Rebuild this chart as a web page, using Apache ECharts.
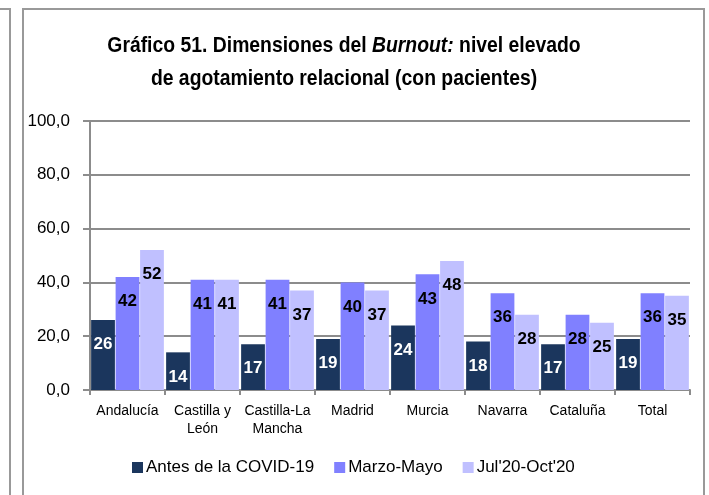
<!DOCTYPE html>
<html>
<head>
<meta charset="utf-8">
<script src="https://cdn.jsdelivr.net/npm/echarts@6/dist/echarts.min.js"></script>
<style>
  html, body { margin: 0; padding: 0; background: #fff; }
  #chart { width: 709px; height: 495px; }
</style>
</head>
<body>
<div id="chart"></div>
<script>
// Regions and the three survey periods
const categories = ['Andalucía', 'Castilla y\nLeón', 'Castilla-La\nMancha', 'Madrid', 'Murcia', 'Navarra', 'Cataluña', 'Total'];
const seriesNames = ['Antes de la COVID-19', 'Marzo-Mayo', "Jul'20-Oct'20"];
const antesCovid = [26, 14, 17, 19, 24, 18, 17, 19];
const marzoMayo = [42, 41, 41, 40, 43, 36, 28, 36];
const julOct = [52, 41, 37, 37, 48, 28, 25, 35];
const yTicks = [0, 20, 40, 60, 80, 100];

const colors = ['#1B365D', '#8080FF', '#C0C0FF'];
const labelColors = ['#ffffff', '#000000', '#000000'];
const FONT = "'Liberation Sans', Arial, sans-serif";
const GREY = '#8C8C8C';

const chart = echarts.init(document.getElementById('chart'), null, { renderer: 'canvas' });

function barSeries(i, values) {
  return {
    name: seriesNames[i],
    type: 'bar',
    data: values,
    barGap: '3%',
    barCategoryGap: '3%',
    itemStyle: { color: colors[i] },
    label: {
      show: true,
      position: 'insideTop',
      distance: 16,
      color: labelColors[i],
      fontFamily: FONT,
      fontWeight: 'bold',
      fontSize: 17
    }
  };
}

chart.setOption({
  animation: false,
  color: colors,
  legend: {
    data: seriesNames,
    left: 127,
    top: 454,
    itemWidth: 11,
    itemHeight: 11,
    itemGap: 20,
    icon: 'rect',
    textStyle: { fontFamily: FONT, fontSize: 17, color: '#000', padding: [0, 0, 0, -2] }
  },
  grid: { left: 90, right: 19, top: 121, bottom: 105, containLabel: false },
  xAxis: {
    type: 'category',
    data: categories,
    axisLine: { lineStyle: { color: GREY, width: 2 } },
    axisTick: { show: true, length: 5, lineStyle: { color: GREY, width: 2 } },
    axisLabel: { fontFamily: FONT, fontSize: 14, color: '#000', margin: 12, lineHeight: 18, interval: 0 }
  },
  yAxis: {
    type: 'value',
    min: yTicks[0],
    max: yTicks[yTicks.length - 1],
    interval: 20,
    axisLine: { show: true, lineStyle: { color: GREY, width: 2 } },
    axisTick: { show: true, length: 7, lineStyle: { color: GREY, width: 2 } },
    splitLine: { show: true, lineStyle: { color: GREY, width: 2 } },
    axisLabel: {
      fontFamily: FONT, fontSize: 17, color: '#000', margin: 20,
      formatter: v => v.toFixed(1).replace('.', ',')
    }
  },
  graphic: [
    // outer page frames
    { type: 'polyline', shape: { points: [[0, 9], [10, 9], [10, 495]] }, style: { stroke: '#999', lineWidth: 2, fill: null } },
    { type: 'polyline', shape: { points: [[23, 495], [23, 9], [704, 9], [704, 495]] }, style: { stroke: '#999', lineWidth: 2, fill: null } },
    // chart title, set in a condensed bold face
    {
      type: 'text',
      x: 344,
      y: 29,
      scaleX: 0.88,
      originX: 0,
      style: {
        text: '{b|Gráfico 51. Dimensiones del }{i|Burnout:}{b| nivel elevado}\n{b|de agotamiento relacional (con pacientes)}',
        align: 'center',
        verticalAlign: 'top',
        rich: {
          b: { fontFamily: FONT, fontWeight: 'bold', fontSize: 22, fill: '#000', lineHeight: 33 },
          i: { fontFamily: FONT, fontWeight: 'bold', fontStyle: 'italic', fontSize: 22, fill: '#000', lineHeight: 33 }
        }
      }
    }
  ],
  series: [
    barSeries(0, antesCovid),
    barSeries(1, marzoMayo),
    barSeries(2, julOct)
  ]
});
</script>
</body>
</html>
